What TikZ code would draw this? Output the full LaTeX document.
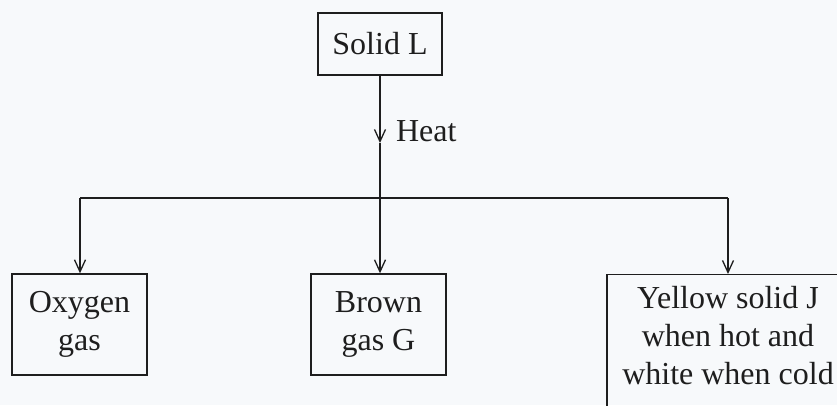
\documentclass[tikz,border=0pt]{standalone}
\usepackage{fontspec}
\setmainfont{Liberation Serif}
\usetikzlibrary{arrows.meta}
\definecolor{paper}{RGB}{247,249,251}
\definecolor{ink}{RGB}{30,30,30}
\begin{document}
\begin{tikzpicture}[x=1pt,y=-1pt,
  line width=1.4pt, draw=ink,
  every node/.style={font=\fontsize{32}{38}\selectfont, text=ink},
  box/.style={draw=ink, rectangle, align=center, inner sep=0pt},
  arr/.style={-{Straight Barb[length=12pt,width=11pt,line width=1.3pt]}}]
  % page and clipping
  \fill[paper] (0,0) rectangle (837,405);
  \clip (0,0) rectangle (837,405);

  % boxes
  \node[box, minimum width=124, minimum height=62] (L) at (380,44) {Solid L};
  \node[box, minimum width=135, minimum height=101] (O) at (79.5,324.5) {Oxygen\\gas};
  \node[box, minimum width=135, minimum height=101] (B) at (378.5,324.5) {Brown\\gas G};
  \node[box, minimum width=242, minimum height=170, anchor=north] (J) at (728,274) {};
  \node[align=center] (Jtext) at (728,336) {Yellow solid J\\when hot and\\white when cold};

  % branch points
  \coordinate (hmid) at (380,143);
  \coordinate (jO) at (80,198);
  \coordinate (jM) at (380,198);
  \coordinate (jJ) at (728,198);

  % heating step
  \draw[arr] (L.south) -- (hmid);
  \draw (hmid) -- (jM);
  \node[anchor=west] (heat) at (392,131) {Heat};

  % products
  \draw (jO) -- (jJ);
  \draw[arr] (jO) -- (jO |- O.north);
  \draw[arr] (jM) -- (jM |- B.north);
  \draw[arr] (jJ) -- (J.north);
\end{tikzpicture}
\end{document}
